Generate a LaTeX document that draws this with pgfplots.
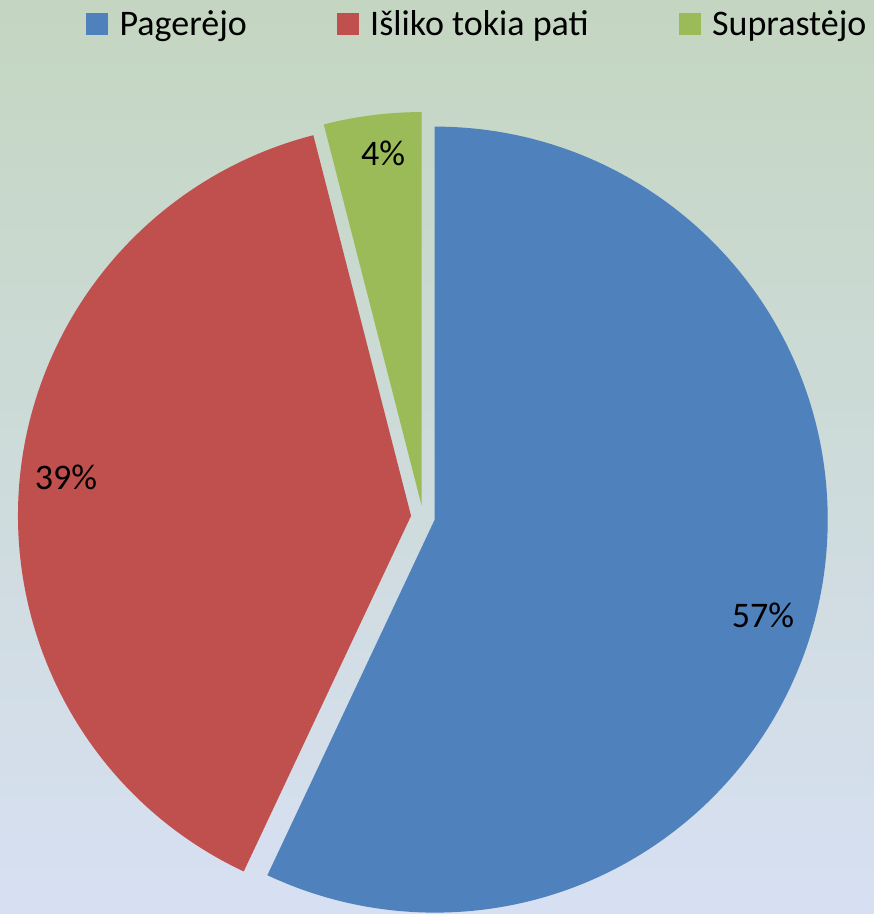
\documentclass[border=0pt]{standalone}
\usepackage{pgfplots}
\pgfplotsset{compat=1.18}
\usepackage{pgfplotstable}
\usepackage{fontspec}
\setmainfont{Carlito}

\definecolor{pie0}{RGB}{79,129,189}
\definecolor{pie1}{RGB}{192,80,77}
\definecolor{pie2}{RGB}{155,187,89}
\definecolor{bgtop}{RGB}{196,214,193}
\definecolor{bgmid}{RGB}{197,211,236}
\definecolor{bgbot}{RGB}{215,224,243}

% value, label position (x, y in pixel units, y up)
\pgfplotstableread{
value lx ly
57 763 299
39 66 437
4 383 761
}\piedata

\def\cx{423}\def\cy{397}\def\R{393}\def\ex{12}

\begin{document}
\begin{tikzpicture}
% angles of the slices, clockwise from the top
\pgfmathsetmacro\cum{0}
\pgfplotsforeachungrouped \i in {0,1,2}{%
  \pgfplotstablegetelem{\i}{value}\of\piedata
  \let\v\pgfplotsretval
  \pgfmathsetmacro\a{90-3.6*\cum}%
  \pgfmathsetmacro\b{90-3.6*(\cum+\v)}%
  \pgfmathsetmacro\m{(\a+\b)/2}%
  \pgfmathsetmacro\px{\cx+\ex*cos(\m)}%
  \pgfmathsetmacro\py{\cy+\ex*sin(\m)}%
  \expandafter\xdef\csname sa\i\endcsname{\a}%
  \expandafter\xdef\csname sb\i\endcsname{\b}%
  \expandafter\xdef\csname px\i\endcsname{\px}%
  \expandafter\xdef\csname py\i\endcsname{\py}%
  \expandafter\xdef\csname val\i\endcsname{\v}%
  \pgfplotstablegetelem{\i}{lx}\of\piedata
  \expandafter\xdef\csname lx\i\endcsname{\pgfplotsretval}%
  \pgfplotstablegetelem{\i}{ly}\of\piedata
  \expandafter\xdef\csname ly\i\endcsname{\pgfplotsretval}%
  \pgfmathsetmacro\cum{\cum+\v}%
}
\begin{axis}[
    scale only axis,
    width=874bp, height=914bp,
    xmin=0, xmax=874, ymin=0, ymax=914,
    hide axis,
    clip=false,
    legend columns=3,
    legend style={at={(axis cs:86,890)}, anchor=west, draw=none, fill=none,
        font=\fontsize{36bp}{42bp}\selectfont, inner sep=0pt,
        /tikz/every odd column/.append style={column sep=10bp},
        /tikz/every even column/.append style={column sep=88bp}},
    legend image code/.code={\fill[#1] (0bp,-10.5bp) rectangle (21bp,10.5bp);},
]
% background
\shade[top color=bgtop, middle color=bgmid, bottom color=bgbot]
    (axis cs:0,0) rectangle (axis cs:874,914);

\addlegendimage{pie0}\addlegendentry{Pagerėjo}
\addlegendimage{pie1}\addlegendentry{Išliko tokia pati}
\addlegendimage{pie2}\addlegendentry{Suprastėjo}

% slices
\pgfplotsinvokeforeach{0,1,2}{
  \fill[pie#1] (axis cs:\csname px#1\endcsname,\csname py#1\endcsname)
      -- ++(\csname sa#1\endcsname:\R bp)
      arc[start angle=\csname sa#1\endcsname, end angle=\csname sb#1\endcsname, radius=\R bp]
      -- cycle;
  \node[font=\fontsize{36bp}{42bp}\selectfont]
      at (axis cs:\csname lx#1\endcsname,\csname ly#1\endcsname)
      {\csname val#1\endcsname\%};
}
\end{axis}
\pgfresetboundingbox
\path[use as bounding box] (current axis.south west) rectangle (current axis.north east);
\end{tikzpicture}
\end{document}
